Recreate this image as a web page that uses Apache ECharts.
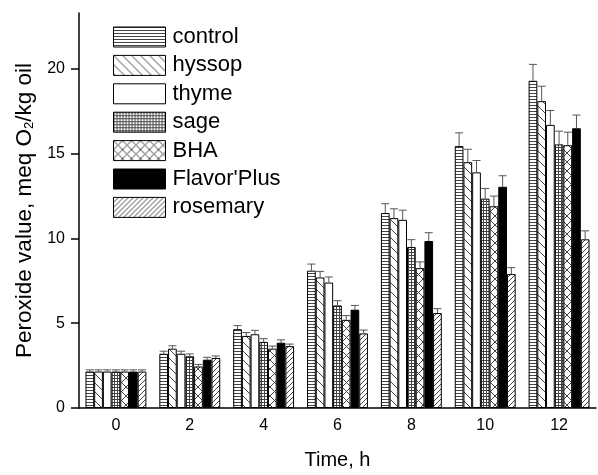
<!DOCTYPE html>
<html>
<head>
<meta charset="utf-8">
<script src="https://cdn.jsdelivr.net/npm/echarts@6/dist/echarts.min.js"></script>
<style>
html,body{margin:0;padding:0;background:#fff;}
#chart{width:598px;height:475px;}
</style>
</head>
<body>
<div id="chart"></div>
<script>
// ---- data ----
var categories = ['0', '2', '4', '6', '8', '10', '12'];
var seriesNames = ['control', 'hyssop', 'thyme', 'sage', 'BHA', "Flavor'Plus", 'rosemary'];
var control  = [2.15, 3.2, 4.65, 8.1, 11.5, 15.45, 19.3];
var hyssop   = [2.15, 3.5, 4.25, 7.7, 11.2, 14.5, 18.1];
var thyme    = [2.15, 3.2, 4.35, 7.4, 11.1, 13.9, 16.7];
var sage     = [2.15, 3.05, 3.9, 6.05, 9.5, 12.35, 15.55];
var bha      = [2.15, 2.45, 3.5, 5.2, 8.25, 11.9, 15.5];
var flavor   = [2.15, 2.85, 3.85, 5.8, 9.85, 13.05, 16.5];
var rosemary = [2.15, 2.95, 3.65, 4.4, 5.6, 7.9, 9.95];
var controlErr  = [0.1, 0.15, 0.21, 0.39, 0.55, 0.78, 0.97];
var hyssopErr   = [0.1, 0.17, 0.2, 0.36, 0.55, 0.76, 0.88];
var thymeErr    = [0.1, 0.15, 0.23, 0.33, 0.57, 0.7, 0.85];
var sageErr     = [0.1, 0.14, 0.19, 0.28, 0.43, 0.6, 0.78];
var bhaErr      = [0.1, 0.12, 0.15, 0.25, 0.37, 0.6, 0.77];
var flavorErr   = [0.1, 0.14, 0.17, 0.25, 0.49, 0.65, 0.78];
var rosemaryErr = [0.1, 0.12, 0.12, 0.2, 0.26, 0.38, 0.5];
var yTicks = [0, 5, 10, 15, 20];

var values = [control, hyssop, thyme, sage, bha, flavor, rosemary];
var errors = [controlErr, hyssopErr, thymeErr, sageErr, bhaErr, flavorErr, rosemaryErr];

// ---- patterns ----
function makePattern(w, h, draw) {
  var c = document.createElement('canvas');
  c.width = w; c.height = h;
  var ctx = c.getContext('2d');
  ctx.fillStyle = '#fff';
  ctx.fillRect(0, 0, w, h);
  ctx.strokeStyle = '#444';
  ctx.lineWidth = 1;
  draw(ctx, w, h);
  return { image: c, repeat: 'repeat' };
}
var patHoriz = makePattern(4, 3, function (ctx, w) {
  ctx.beginPath(); ctx.moveTo(0, 0.5); ctx.lineTo(w, 0.5); ctx.stroke();
});
var patBack = makePattern(9, 9, function (ctx, w, h) {
  ctx.beginPath();
  for (var k = -1; k <= 1; k++) { ctx.moveTo(k * w, 0); ctx.lineTo(k * w + w, h); }
  ctx.stroke();
});
var patGrid = makePattern(3, 3, function (ctx, w, h) {
  ctx.beginPath();
  ctx.moveTo(0, 0.5); ctx.lineTo(w, 0.5);
  ctx.moveTo(0.5, 0); ctx.lineTo(0.5, h);
  ctx.stroke();
});
var patCross = makePattern(9, 9, function (ctx, w, h) {
  ctx.beginPath();
  for (var k = -1; k <= 1; k++) {
    ctx.moveTo(k * w, 0); ctx.lineTo(k * w + w, h);
    ctx.moveTo(k * w, h); ctx.lineTo(k * w + w, 0);
  }
  ctx.stroke();
});
var patFwd = makePattern(5, 5, function (ctx, w, h) {
  ctx.beginPath();
  for (var k = -1; k <= 1; k++) { ctx.moveTo(k * w, h); ctx.lineTo(k * w + w, 0); }
  ctx.stroke();
});
var fills = [patHoriz, patBack, '#ffffff', patGrid, patCross, '#000000', patFwd];

var BW = 8.7;
var FONT = 'Arial, "Liberation Sans", sans-serif';

var series = [];
seriesNames.forEach(function (name, i) {
  series.push({
    name: name,
    type: 'bar',
    barWidth: BW,
    barGap: '0%',
    data: values[i],
    itemStyle: { color: fills[i], borderColor: '#000', borderWidth: 1 },
    emphasis: { disabled: true },
    animation: false
  });
});
seriesNames.forEach(function (name, i) {
  series.push({
    type: 'custom',
    silent: true,
    animation: false,
    z: 5,
    data: categories.map(function (c, j) { return [j, values[i][j], errors[i][j]]; }),
    renderItem: function (params, api) {
      var x = api.value(0), v = api.value(1), e = api.value(2);
      var p = api.coord([x, v]);
      var t = api.coord([x, v + e]);
      var off = (i - 3) * BW;
      var cx = p[0] + off;
      return {
        type: 'group',
        children: [
          { type: 'line', shape: { x1: cx, y1: p[1], x2: cx, y2: t[1] }, style: { stroke: '#555', lineWidth: 1 } },
          { type: 'line', shape: { x1: cx - 4, y1: t[1], x2: cx + 4, y2: t[1] }, style: { stroke: '#555', lineWidth: 1 } }
        ]
      };
    }
  });
});

var chart = echarts.init(document.getElementById('chart'), null, { renderer: 'canvas' });
chart.setOption({
  backgroundColor: '#fff',
  animation: false,
  textStyle: { fontFamily: FONT },
  grid: { left: 79, right: 2, top: 13, bottom: 63, containLabel: false },
  legend: {
    data: seriesNames,
    orient: 'vertical',
    left: 113,
    top: 26,
    padding: 0,
    itemWidth: 52,
    itemHeight: 20,
    itemGap: 6.4,
    icon: 'rect',
    selectedMode: false,
    itemStyle: { borderColor: '#000', borderWidth: 1 },
    textStyle: { fontSize: 22, color: '#000', fontFamily: FONT, padding: [0, 0, 0, 2] }
  },
  xAxis: {
    type: 'category',
    data: categories,
    name: 'Time, h',
    nameLocation: 'middle',
    nameGap: 42,
    nameTextStyle: { fontSize: 20, color: '#000', fontFamily: FONT },
    axisLine: { lineStyle: { color: '#000', width: 1.5 } },
    axisTick: { show: false },
    axisLabel: { fontSize: 16, color: '#000', margin: 10, fontFamily: FONT }
  },
  yAxis: {
    type: 'value',
    min: 0,
    max: 23.3,
    interval: 5,
    name: 'Peroxide value, meq O{sub|2}/kg oil',
    nameLocation: 'middle',
    nameGap: 42,
    nameTextStyle: {
      fontSize: 22.5, color: '#000', fontFamily: FONT,
      rich: { sub: { fontSize: 13, lineHeight: 10, verticalAlign: 'bottom', color: '#000', fontFamily: FONT } }
    },
    splitLine: { show: false },
    axisLine: { show: true, lineStyle: { color: '#000', width: 1.5 } },
    axisTick: { show: true, length: 8, customValues: yTicks, lineStyle: { color: '#000', width: 1.5 } },
    axisLabel: { fontSize: 16, color: '#000', margin: 14, customValues: yTicks, fontFamily: FONT }
  },
  series: series
});
</script>
</body>
</html>
